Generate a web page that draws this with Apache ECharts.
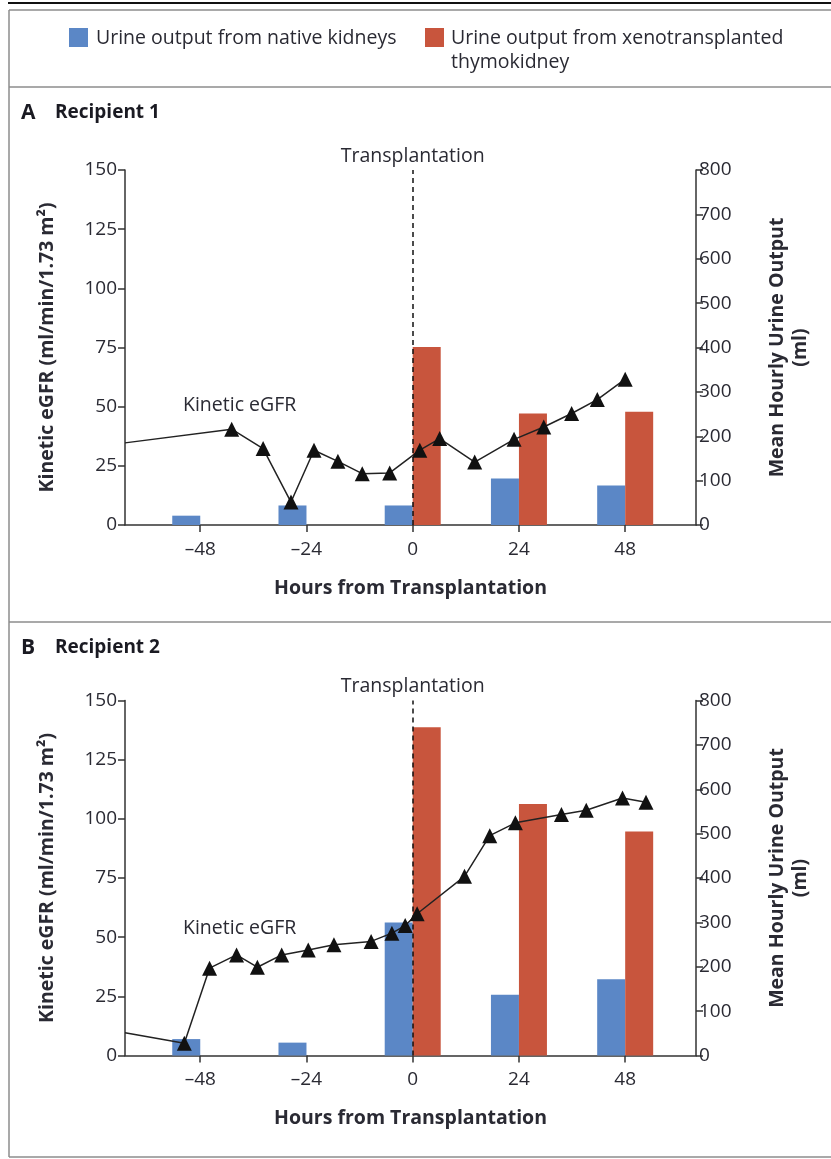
<!DOCTYPE html>
<html>
<head>
<meta charset="utf-8">
<script src="https://cdn.jsdelivr.net/npm/echarts@6/dist/echarts.min.js"></script>
<style>
  html, body { margin: 0; padding: 0; background: #fff; }
  #main { width: 831px; height: 1159px; }
</style>
</head>
<body>
<div id="main"></div>
<script>
// hours from transplantation for the bar groups
var barHours = [-48, -24, 0, 24, 48];
var xenoHours = [0, 24, 48];

// recipient 1 (panel A)
var nativeA = [21, 44, 44, 105, 89];          // ml
var xenoA = [401, 251, 255];                  // ml
var egfrHoursA = [-65, -40.9, -33.8, -27.5, -22.3, -16.9, -11.4, -5.2, 1.6, 6.1, 14.0, 22.9, 29.6, 35.9, 41.7, 48.0];
var egfrA = [34.7, 40.5, 32.3, 9.7, 31.6, 26.9, 21.7, 22.0, 31.6, 36.5, 26.6, 36.2, 41.4, 47.1, 53.0, 61.6];

// recipient 2 (panel B)
var nativeB = [37, 29, 300, 137, 172];
var xenoB = [740, 567, 505];
var egfrHoursB = [-65, -51.6, -45.9, -39.8, -35.1, -29.6, -23.6, -17.8, -9.4, -4.7, -1.7, 1.0, 11.7, 17.4, 23.2, 33.6, 39.2, 47.4, 52.7];
var egfrB = [9.6, 5.2, 36.9, 42.5, 37.3, 42.5, 44.6, 46.8, 48.2, 51.7, 54.9, 59.9, 75.7, 92.9, 98.3, 101.8, 103.6, 108.8, 107.0];

var xTicks = [-48, -24, 0, 24, 48];

var FONT = '"Open Sans", "Noto Sans", sans-serif';
var TXT = '#2a2a33';
var BLUE = '#5b87c6';
var RED = '#c8553d';
var FS = 19.5;

function pairs(xs, ys) {
    var out = [];
    for (var i = 0; i < xs.length; i++) {
        out.push([xs[i], ys[i]]);
    }
    return out;
}

function lineData(xs, ys) {
    var out = pairs(xs, ys);
    // first point sits on the left axis, no marker there
    out[0] = { value: out[0], symbol: 'none' };
    return out;
}

var myChart = echarts.init(document.getElementById('main'));

var grids = [
    { left: 125, right: 135, top: 170, height: 355 },
    { left: 125, right: 135, top: 700.5, height: 355 }
];

var axisLine = { show: true, onZero: false, lineStyle: { color: '#333', width: 1.5 } };
var axisTick = { show: true, length: 7, lineStyle: { color: '#333', width: 1.5 } };

var xAxes = [];
var yAxes = [];
for (var g = 0; g < 2; g++) {
    xAxes.push({
        type: 'value',
        gridIndex: g,
        min: -65,
        max: 64,
        name: 'Hours from Transplantation',
        nameLocation: 'middle',
        nameGap: 53,
        nameTextStyle: { fontFamily: FONT, fontSize: FS, fontWeight: 'bold', color: TXT },
        splitLine: { show: false },
        axisLine: axisLine,
        axisTick: { customValues: xTicks, length: 7, lineStyle: { color: '#333', width: 1.5 } },
        axisLabel: {
            customValues: xTicks,
            margin: 15,
            fontFamily: FONT, fontSize: 19, color: TXT,
            formatter: function (v) { return String(v).replace('-', '\u2013'); }
        }
    });
    yAxes.push({
        type: 'value',
        gridIndex: g,
        position: 'left',
        min: 0, max: 150, interval: 25,
        name: 'Kinetic eGFR (ml/min/1.73 m\u00b2)',
        nameLocation: 'middle',
        nameGap: 68,
        nameTextStyle: { fontFamily: FONT, fontSize: FS, fontWeight: 'bold', color: TXT },
        splitLine: { show: false },
        axisLine: axisLine,
        axisTick: axisTick,
        axisLabel: { margin: 8, fontFamily: FONT, fontSize: 19, color: TXT }
    });
    yAxes.push({
        type: 'value',
        gridIndex: g,
        position: 'right',
        min: 0, max: 800, interval: 100,
        name: 'Mean Hourly Urine Output\n(ml)',
        nameLocation: 'middle',
        nameGap: 70,
        nameTextStyle: { fontFamily: FONT, fontSize: FS, fontWeight: 'bold', color: TXT, lineHeight: 23 },
        splitLine: { show: false },
        axisLine: axisLine,
        axisTick: axisTick,
        axisLabel: { margin: 3, fontFamily: FONT, fontSize: 19, color: TXT }
    });
}

function transplantLine() {
    return {
        silent: true,
        symbol: 'none',
        lineStyle: { color: '#111', type: [5, 4], width: 1.5 },
        label: {
            show: true, position: 'end', distance: 4,
            formatter: 'Transplantation',
            fontFamily: FONT, fontSize: FS, color: TXT
        },
        data: [{ xAxis: 0 }]
    };
}

function panelSeries(g, native, xeno, eh, ev) {
    return [
        {
            name: 'Urine output from native kidneys',
            type: 'bar',
            xAxisIndex: g, yAxisIndex: g * 2 + 1,
            barWidth: 28, barGap: '0%',
            itemStyle: { color: BLUE },
            data: pairs(barHours, native)
        },
        {
            name: 'Urine output from xenotransplanted thymokidney',
            type: 'bar',
            xAxisIndex: g, yAxisIndex: g * 2 + 1,
            barWidth: 28, barGap: '0%',
            itemStyle: { color: RED },
            data: pairs(xenoHours, xeno)
        },
        {
            name: 'Kinetic eGFR',
            type: 'line',
            xAxisIndex: g, yAxisIndex: g * 2,
            symbol: 'triangle',
            symbolSize: 15,
            itemStyle: { color: '#111' },
            lineStyle: { color: '#222', width: 1.5 },
            z: 5,
            data: lineData(eh, ev),
            markLine: transplantLine()
        }
    ];
}

var series = panelSeries(0, nativeA, xenoA, egfrHoursA, egfrA)
    .concat(panelSeries(1, nativeB, xenoB, egfrHoursB, egfrB));

var frame = { stroke: '#8c8c8c', lineWidth: 1.5 };

var option = {
    animation: false,
    backgroundColor: '#fff',
    grid: grids,
    xAxis: xAxes,
    yAxis: yAxes,
    series: series,
    graphic: [
        // frame
        { type: 'line', shape: { x1: 8, y1: 3, x2: 831, y2: 3 }, style: { stroke: '#111', lineWidth: 2 } },
        { type: 'line', shape: { x1: 9, y1: 10, x2: 831, y2: 10 }, style: frame },
        { type: 'line', shape: { x1: 9, y1: 10, x2: 9, y2: 1157 }, style: frame },
        { type: 'line', shape: { x1: 9, y1: 87, x2: 831, y2: 87 }, style: frame },
        { type: 'line', shape: { x1: 9, y1: 622, x2: 831, y2: 622 }, style: frame },
        { type: 'line', shape: { x1: 9, y1: 1157, x2: 831, y2: 1157 }, style: frame },
        // legend
        { type: 'rect', shape: { x: 69, y: 28, width: 19, height: 19 }, style: { fill: BLUE } },
        { type: 'text', x: 96, y: 38, style: { text: 'Urine output from native kidneys', font: FS + 'px ' + FONT, fill: TXT, verticalAlign: 'middle' } },
        { type: 'rect', shape: { x: 425, y: 28, width: 19, height: 19 }, style: { fill: RED } },
        { type: 'text', x: 451, y: 38, style: { text: 'Urine output from xenotransplanted', font: FS + 'px ' + FONT, fill: TXT, verticalAlign: 'middle' } },
        { type: 'text', x: 451, y: 62, style: { text: 'thymokidney', font: FS + 'px ' + FONT, fill: TXT, verticalAlign: 'middle' } },
        // panel titles
        { type: 'text', x: 21, y: 113, style: { text: 'A', font: 'bold 21px ' + FONT, fill: '#1a1a22', verticalAlign: 'middle' } },
        { type: 'text', x: 55, y: 113, style: { text: 'Recipient 1', font: 'bold 19px ' + FONT, fill: '#1a1a22', verticalAlign: 'middle' } },
        { type: 'text', x: 21, y: 648, style: { text: 'B', font: 'bold 21px ' + FONT, fill: '#1a1a22', verticalAlign: 'middle' } },
        { type: 'text', x: 55, y: 648, style: { text: 'Recipient 2', font: 'bold 19px ' + FONT, fill: '#1a1a22', verticalAlign: 'middle' } },
        // line labels
        { type: 'text', x: 183, y: 405, style: { text: 'Kinetic eGFR', font: FS + 'px ' + FONT, fill: TXT, verticalAlign: 'middle' } },
        { type: 'text', x: 183, y: 928, style: { text: 'Kinetic eGFR', font: FS + 'px ' + FONT, fill: TXT, verticalAlign: 'middle' } }
    ]
};

myChart.setOption(option);
</script>
</body>
</html>
